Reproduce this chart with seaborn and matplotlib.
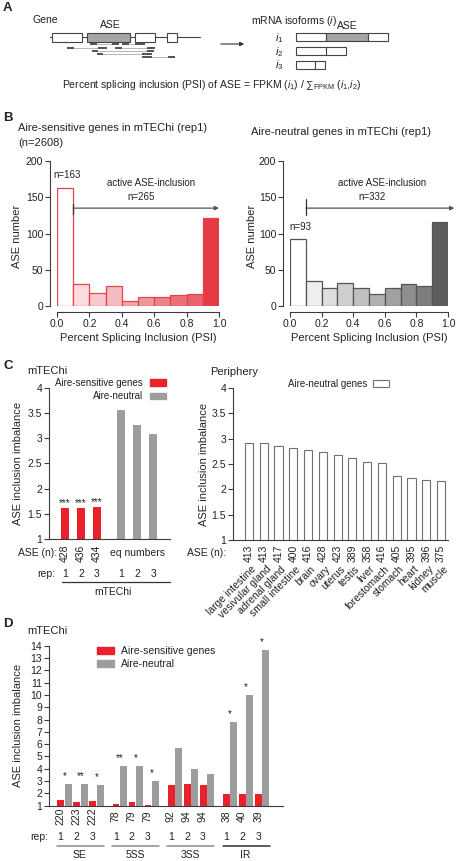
import numpy as np
import pandas as pd
import seaborn as sns
import matplotlib.pyplot as plt
from matplotlib import transforms
from matplotlib.patches import Rectangle, Patch

W, H = 461, 861

## B - PSI histograms (rep1), counts per 0.1 bin
psi_mid = [0.05, 0.15, 0.25, 0.35, 0.45, 0.55, 0.65, 0.75, 0.85, 0.95]
sens_counts = [163, 30, 18, 27, 7, 13, 13, 15, 16, 122]
neut_counts = [93, 35, 25, 32, 25, 16, 25, 30, 28, 116]
sens_colors = ['#ffffff', '#fbdde0', '#f7cacd', '#f4bcc0', '#f1a6ac', '#ef959c',
               '#ec848c', '#ea717a', '#e8636c', '#e63945']
neut_colors = ['#ffffff', '#eeeeee', '#dedede', '#cfcfcf', '#c0c0c0', '#b1b1b1',
               '#a1a1a1', '#8f8f8f', '#7d7d7d', '#5c5c5c']

## C - mTEChi and periphery
reps = ['1', '2', '3']
mtec_sens = [1.62, 1.62, 1.64]
mtec_neut = [3.56, 3.27, 3.09]
mtec_n = ['428', '436', '434']
tissues = ['large intestine', 'vesivular gland', 'adrenal gland', 'small intestine',
           'brain', 'ovary', 'uterus', 'testis', 'liver', 'forestomach', 'stomach',
           'heart', 'kidney', 'muscle']
tissue_vals = [2.92, 2.92, 2.85, 2.82, 2.77, 2.74, 2.67, 2.62, 2.53, 2.52,
               2.26, 2.23, 2.18, 2.16]
tissue_n = ['413', '413', '417', '400', '416', '428', '423', '389', '358', '416',
            '405', '395', '396', '375']

## D - per ASE type, 3 reps each
ase_types = ['SE', '5SS', '3SS', 'IR']
d_sens = [1.46, 1.30, 1.40, 1.16, 1.30, 1.03, 2.68, 2.78, 2.68, 1.92, 1.92, 1.92]
d_neut = [2.76, 2.76, 2.70, 4.19, 4.19, 3.03, 5.65, 3.97, 3.60, 7.80, 9.97, 13.68]
d_n = ['220', '223', '222', '78', '79', '79', '92', '94', '94', '38', '40', '39']
d_stars = ['*', '**', '*', '**', '*', '*', '', '', '', '*', '*', '*']

RED = '#e8212b'
GREY = '#9d9d9d'
AX = '#3c3c3c'


def box(l, t, r, b):
    return [l / W, 1 - b / H, (r - l) / W, (b - t) / H]


def style(ax):
    sns.despine(ax=ax)
    for s in ('left', 'bottom'):
        ax.spines[s].set_linewidth(0.8)
        ax.spines[s].set_color(AX)
    ax.tick_params(length=3.5, width=0.8, color=AX, labelsize=7.5, pad=1.5, labelcolor='#222222')


def main():
    sns.set_style('ticks')
    plt.rcParams['font.family'] = ['Liberation Sans', 'DejaVu Sans']
    plt.rcParams['mathtext.fontset'] = 'custom'
    plt.rcParams['mathtext.rm'] = 'Liberation Sans'
    plt.rcParams['mathtext.it'] = 'Liberation Sans:italic'
    plt.rcParams['text.color'] = '#222222'

    fig = plt.figure(figsize=(W / 100, H / 100), dpi=100)

    def ftxt(x, y, s, **kw):
        fig.text(x / W, 1 - y / H, s, **kw)

    for letter, y in [('A', 8), ('B', 118), ('C', 366), ('D', 624)]:
        ftxt(3, y, letter, fontsize=9.5, fontweight='bold', va='center')

    panel_a(fig, ftxt)

    # B
    psi_panel(fig, ftxt, (57, 161, 219, 306), sens_counts, sens_colors, '#e8434a', 21.5,
              dict(tick=(127, 141), arrow_end=1.0, n_all='n=265', n_low='n=163', low_y=180))
    ftxt(18, 128, 'Aire-sensitive genes in mTEChi (rep1)', fontsize=8, va='center')
    ftxt(18, 143, '(n=2608)', fontsize=8, va='center')
    psi_panel(fig, ftxt, (290, 161, 448, 306), neut_counts, neut_colors, '#555555', 256.5,
              dict(tick=(126, 147), arrow_end=1.04, n_all='n=332', n_low='n=93', low_y=109))
    ftxt(251, 132, 'Aire-neutral genes in mTEChi (rep1)', fontsize=8, va='center')

    # C
    mtec_panel(fig, ftxt)
    periphery_panel(fig, ftxt)

    # D
    type_panel(fig, ftxt)

    fig.savefig('out.png', dpi=100)


def panel_a(fig, ftxt):
    ax = fig.add_axes(box(0, 0, W, 105))
    ax.set_xlim(0, W)
    ax.set_ylim(105, 0)
    ax.axis('off')
    ec = '#444444'
    ax.plot([50, 200], [37, 37], color=ec, lw=0.8)
    for l, r, c in [(52, 82, 'white'), (87, 130, '#a6a6a6'), (135, 155, 'white'), (167, 177, 'white')]:
        ax.add_patch(Rectangle((l, 32.5), r - l, 9, facecolor=c, edgecolor=ec, lw=0.8, zorder=3))
    reads = [(44.3, (90, 97), (112, 119)), (44.3, (122, 129), (135, 145)),
             (48.3, (67, 74), (98, 107)), (48.3, (115, 122), (147, 155)),
             (51.0, (92, 98), (147, 154)), (53.7, (97, 103), (142, 152)),
             (57.3, (142, 152), (168, 175))]
    for y, a, b in reads:
        ax.plot([a[1], b[0]], [y, y], color='#9a9a9a', lw=0.5)
        ax.plot(a, [y, y], color='#333333', lw=1.2, solid_capstyle='butt')
        ax.plot(b, [y, y], color='#333333', lw=1.2, solid_capstyle='butt')
    ax.annotate('', xy=(247, 44), xytext=(218, 44),
                arrowprops=dict(arrowstyle='-|>', color='#333333', lw=0.8, mutation_scale=6))
    isoforms = [(33.3, [(296, 326, 'white'), (326, 368, '#a6a6a6'), (368, 388, 'white')]),
                (47.0, [(296, 326, 'white'), (326, 346, 'white')]),
                (60.7, [(296, 315, 'white'), (315, 325, 'white')])]
    for y, parts in isoforms:
        for l, r, c in parts:
            ax.add_patch(Rectangle((l, y), r - l, 8, facecolor=c, edgecolor=ec, lw=0.8))
    ax.text(32, 20, 'Gene', fontsize=7.5, va='center')
    ax.text(110, 25, 'ASE', fontsize=7.5, va='center', ha='center')
    ax.text(251, 21, 'mRNA isoforms ($i$)', fontsize=7.5, va='center')
    ax.text(347, 26, 'ASE', fontsize=7.5, va='center', ha='center')
    for k, y in enumerate([38, 52, 65]):
        ax.text(279, y, f'$i_{k + 1}$', fontsize=8, va='center', ha='center')
    ax.text(62, 85, 'Percent splicing inclusion (PSI) of ASE = FPKM ($i_1$) / \u2211$_{\\rm FPKM}$ ($i_1$,$i_2$)',
            fontsize=7.5, va='center')


def psi_panel(fig, ftxt, px, counts, colors, edge, ylab_x, note):
    ax = fig.add_axes(box(*px))
    df = pd.DataFrame({'psi': psi_mid, 'n': counts})
    sns.histplot(data=df, x='psi', weights='n', bins=10, binrange=(0, 1), ax=ax)
    for p, c in zip(ax.patches, colors):
        p.set_facecolor(c)
        p.set_alpha(1)
        p.set_edgecolor(edge)
        p.set_linewidth(0.9)
    ax.set_xlim(0, 1)
    ax.set_ylim(0, 200)
    style(ax)
    ax.spines['left'].set_position(('outward', 5))
    ax.spines['bottom'].set_position(('outward', 4.5))
    ticks = np.linspace(0, 1, 6)
    ax.set_xticks(ticks)
    ax.set_xticklabels([f'{t:.1f}' for t in ticks])
    ax.set_yticks(range(0, 201, 50))
    ax.set_xlabel('Percent Splicing Inclusion (PSI)', fontsize=8, labelpad=3)
    ax.set_ylabel('ASE number', fontsize=8)
    ax.yaxis.set_label_coords(ylab_x / W, 0.48,
                              transform=transforms.blended_transform_factory(fig.transFigure, ax.transAxes))
    # active inclusion arrow
    ax.plot([0.1, 0.1], note['tick'], color='#333333', lw=0.9, clip_on=False)
    ax.annotate('', xy=(note['arrow_end'], 135), xytext=(0.1, 135), annotation_clip=False,
                arrowprops=dict(arrowstyle='-|>', color='#555555', lw=0.9, mutation_scale=6,
                                shrinkA=0, shrinkB=0))
    ax.text(0.58, 169, 'active ASE-inclusion', fontsize=7, ha='center', va='center')
    ax.text(0.52, 151, note['n_all'], fontsize=7, ha='center', va='center')
    ax.text(0.065, note['low_y'], note['n_low'], fontsize=7, ha='center', va='center', clip_on=False)


def mtec_panel(fig, ftxt):
    ax = fig.add_axes(box(49, 388, 170, 539))
    pos = list(np.arange(3)) + list(np.arange(3) + 3.5)
    df = pd.DataFrame({'pos': pos, 'val': mtec_sens + mtec_neut,
                       'kind': ['Aire-sensitive genes'] * 3 + ['Aire-neutral'] * 3})
    sns.barplot(data=df, x='pos', y='val', hue='kind', native_scale=True, dodge=False,
                width=0.5, palette={'Aire-sensitive genes': RED, 'Aire-neutral': GREY},
                saturation=1, linewidth=0, errorbar=None, legend=False, ax=ax)
    ax.set_xlim(-1.0, 6.56)
    ax.set_ylim(1, 4)
    style(ax)
    ax.set_xticks([])
    ax.set_yticks(np.arange(1, 4.01, 0.5))
    ax.set_yticklabels(['1', '1.5', '2', '2.5', '3', '3.5', '4'])
    ax.set_xlabel('')
    ax.set_ylabel('ASE inclusion imbalance', fontsize=8)
    ax.yaxis.set_label_coords(23.5 / W, 0.5,
                              transform=transforms.blended_transform_factory(fig.transFigure, ax.transAxes))
    for x, v in zip(pos[:3], mtec_sens):
        ax.text(x, v + 0.03, '***', fontsize=7, ha='center', va='baseline')
    handles = [Patch(color=RED), Patch(color=GREY)]
    ax.legend(handles, ['Aire-sensitive genes', 'Aire-neutral'], loc='upper right',
              bbox_to_anchor=(166 / W, 1 - 378 / H), bbox_transform=fig.transFigure,
              markerfirst=False, frameon=False, fontsize=7, borderpad=0, borderaxespad=0,
              handlelength=1.6, handleheight=0.6, handletextpad=0.8, labelspacing=0.35)
    tr = transforms.blended_transform_factory(ax.transData, fig.transFigure)
    ftxt(57, 553, 'ASE (n):', fontsize=7.5, ha='right', va='center')
    for x, n in zip(pos[:3], mtec_n):
        ax.text(x, 1 - 553 / H, n, transform=tr, rotation=90, fontsize=7.5, ha='center', va='center')
    ax.text(4.5, 1 - 553 / H, 'eq numbers', transform=tr, fontsize=7.5, ha='center', va='center')
    ftxt(55, 574, 'rep:', fontsize=7.5, ha='right', va='center')
    for x, r in zip(pos, reps + reps):
        ax.text(x, 1 - 574 / H, r, transform=tr, fontsize=7.5, ha='center', va='center')
    ax.plot([-0.2, 6.56], [1 - 582 / H] * 2, transform=tr, color='#333333', lw=0.9, clip_on=False)
    ax.text(3.0, 1 - 592 / H, 'mTEChi', transform=tr, fontsize=7.5, ha='center', va='center')
    ftxt(27, 371, 'mTEChi', fontsize=8, va='center')


def periphery_panel(fig, ftxt):
    ax = fig.add_axes(box(233, 388, 448, 540))
    df = pd.DataFrame({'tissue': tissues, 'val': tissue_vals})
    sns.barplot(data=df, x='tissue', y='val', color='white', edgecolor='#707070', linewidth=0.8,
                width=0.55, saturation=1, errorbar=None, ax=ax)
    ax.set_xlim(-1.08, 13.47)
    ax.set_ylim(1, 4)
    style(ax)
    ax.set_xticks([])
    ax.set_yticks(np.arange(1, 4.01, 0.5))
    ax.set_yticklabels(['1', '1.5', '2', '2.5', '3', '3.5', '4'])
    ax.set_xlabel('')
    ax.set_ylabel('ASE inclusion imbalance', fontsize=8)
    ax.yaxis.set_label_coords(208.5 / W, 0.5,
                              transform=transforms.blended_transform_factory(fig.transFigure, ax.transAxes))
    ax.legend([Patch(facecolor='white', edgecolor='#707070', lw=0.8)], ['Aire-neutral genes'],
              loc='upper right', bbox_to_anchor=(389 / W, 1 - 379 / H), bbox_transform=fig.transFigure,
              markerfirst=False, frameon=False, fontsize=7, borderpad=0, borderaxespad=0,
              handlelength=1.6, handleheight=0.6, handletextpad=0.6)
    tr = transforms.blended_transform_factory(ax.transData, fig.transFigure)
    ftxt(226, 553, 'ASE (n):', fontsize=7.5, ha='right', va='center')
    for i, (t, n) in enumerate(zip(tissues, tissue_n)):
        ax.text(i, 1 - 553 / H, n, transform=tr, rotation=90, fontsize=7.5, ha='center', va='center')
        ax.text(i + 0.15, 1 - 564 / H, t, transform=tr, rotation=45, rotation_mode='anchor',
                fontsize=7.5, ha='right', va='top')
    ftxt(210, 372, 'Periphery', fontsize=8, va='center')


def type_panel(fig, ftxt):
    ax = fig.add_axes(box(49, 645.7, 283, 805.7))
    centres = [g * 3.45 + r for g in range(4) for r in range(3)]
    df = pd.DataFrame({'pos': centres * 2, 'val': d_sens + d_neut,
                       'kind': ['Aire-sensitive genes'] * 12 + ['Aire-neutral'] * 12})
    sns.barplot(data=df, x='pos', y='val', hue='kind', native_scale=True, dodge=True,
                width=0.94, gap=0.08, palette={'Aire-sensitive genes': RED, 'Aire-neutral': GREY},
                hue_order=['Aire-sensitive genes', 'Aire-neutral'],
                saturation=1, linewidth=0, errorbar=None, legend=False, ax=ax)
    ax.set_xlim(-0.97, 13.65)
    ax.set_ylim(1, 14)
    style(ax)
    ax.set_xticks([])
    ax.set_yticks(range(1, 15))
    ax.set_xlabel('')
    ax.set_ylabel('ASE inclusion imbalance', fontsize=8)
    ax.yaxis.set_label_coords(23.5 / W, 0.5,
                              transform=transforms.blended_transform_factory(fig.transFigure, ax.transAxes))
    for x, v, s in zip(centres, d_neut, d_stars):
        if s:
            ax.text(x, v + 0.4, s, fontsize=7, ha='center', va='baseline', clip_on=False)
    ax.legend([Patch(color=RED), Patch(color=GREY)], ['Aire-sensitive genes', 'Aire-neutral'],
              loc='upper left', bbox_to_anchor=(97 / W, 1 - 646 / H), bbox_transform=fig.transFigure,
              frameon=False, fontsize=7.5, borderpad=0, borderaxespad=0,
              handlelength=1.6, handleheight=0.6, handletextpad=0.7, labelspacing=0.3)
    tr = transforms.blended_transform_factory(ax.transData, fig.transFigure)
    for x, n, r in zip(centres, d_n, reps * 4):
        ax.text(x - 0.25, 1 - 816 / H, n, transform=tr, rotation=90, fontsize=7.5, ha='center', va='center')
        ax.text(x - 0.25, 1 - 837 / H, r, transform=tr, fontsize=7.5, ha='center', va='center')
    ftxt(48, 837, 'rep:', fontsize=7.5, ha='right', va='center')
    for g, name in enumerate(ase_types):
        lo, hi = g * 3.45 - 0.47, g * 3.45 + 2.47
        col = '#333333' if name == 'IR' else '#8c8c8c'
        ax.plot([lo, hi], [1 - 846 / H] * 2, transform=tr, color=col, lw=1.1, clip_on=False)
        ax.text(g * 3.45 + 0.95, 1 - 855 / H, name, transform=tr, fontsize=7.5, ha='center', va='center')
    ftxt(27, 631, 'mTEChi', fontsize=8, va='center')


if __name__ == '__main__':
    main()
